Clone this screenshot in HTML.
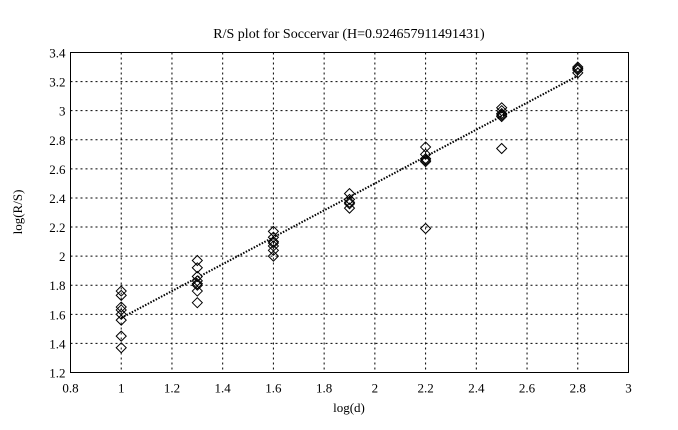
<!DOCTYPE html>
<html><head><style>body{margin:0;background:#fff}svg{display:block}text{font-family:"Liberation Serif",serif;font-size:13px;fill:#000}</style></head>
<body>
<svg width="678" height="430" viewBox="0 0 678 430">
<g id="grid" stroke="#000" stroke-width="1" stroke-dasharray="2,3"></g>
<rect x="70.5" y="52.5" width="558" height="320" fill="none" stroke="#000"/>
<g id="ticks"></g>
<line id="fit" stroke="#000" stroke-width="2" stroke-dasharray="1.5,1.5"/>
<g id="pts" fill="none" stroke="#000" stroke-width="1"></g>
<text x="349" y="38" text-anchor="middle" style="font-size:14px">R/S plot for Soccervar (H=0.924657911491431)</text>
<text x="349" y="412" text-anchor="middle">log(d)</text>
<text transform="translate(22,212) rotate(-90)" text-anchor="middle">log(R/S)</text>
</svg>
<script>
const L=70.5,R=628.5,T=52.5,B=372.5;
const X=v=>L+(v-0.8)/2.2*(R-L), Y=v=>B-(v-1.2)/2.2*(B-T);
const ns="http://www.w3.org/2000/svg";
const g=document.getElementById('grid'),tk=document.getElementById('ticks'),svg=document.querySelector('svg');
function el(p,t,a,txt){const e=document.createElementNS(ns,t);for(const k in a)e.setAttribute(k,a[k]);if(txt)e.textContent=txt;p.appendChild(e);return e;}
for(let i=0;i<=11;i++){const v=0.8+i*0.2,x=X(v);
 if(i>0&&i<11)el(g,'line',{x1:x,x2:x,y1:T,y2:B});
 el(tk,'text',{x:x,y:B+20,'text-anchor':'middle'},(+v.toFixed(1)).toString());
 const yv=1.2+i*0.2,y=Y(yv);
 if(i>0&&i<11)el(g,'line',{x1:L,x2:R,y1:y,y2:y});
 el(svg,'text',{x:L-5,y:y+5,'text-anchor':'end'},(+yv.toFixed(1)).toString());}
const f=document.getElementById('fit');f.setAttribute('x1',X(1));f.setAttribute('y1',Y(1.575));f.setAttribute('x2',X(2.8));f.setAttribute('y2',Y(1.575+0.9247*1.8));
const d={1:[1.76,1.73,1.65,1.63,1.60,1.56,1.45,1.37],1.3:[1.97,1.92,1.86,1.83,1.81,1.80,1.76,1.68],1.6:[2.17,2.13,2.10,2.09,2.07,2.04,2.00],1.9:[2.43,2.39,2.37,2.36,2.33],2.2:[2.75,2.70,2.67,2.66,2.65,2.19],2.5:[3.02,3.00,2.98,2.97,2.96,2.74],2.8:[3.30,3.29,3.28,3.26]};
const p=document.getElementById('pts');
for(const k in d)for(const v of d[k]){const x=X(+k),y=Y(v);el(p,'path',{d:`M${x-5} ${y}L${x} ${y-5}L${x+5} ${y}L${x} ${y+5}Z`});}
</script>
</body></html>
